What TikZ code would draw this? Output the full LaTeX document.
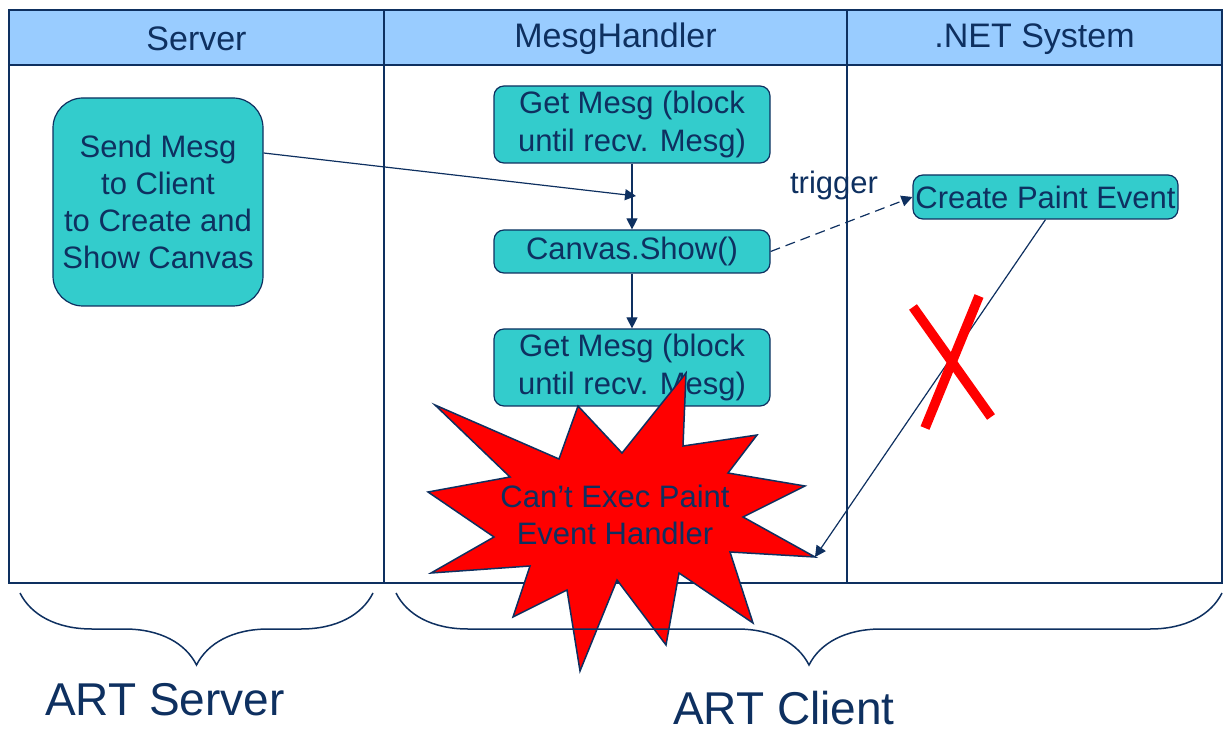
\documentclass[tikz,border=0pt]{standalone}
\usepackage{fontspec}
\setmainfont{Liberation Sans}
\usepackage{tikz}
\usetikzlibrary{arrows.meta,positioning,decorations.pathreplacing}
\definecolor{artnavy}{RGB}{14,48,96}
\definecolor{arthead}{RGB}{153,204,255}
\definecolor{artteal}{RGB}{51,204,204}
\tikzset{
  lanehead/.style={text=artnavy, font=\fontsize{17}{20}\selectfont, inner sep=0pt},
  laneline/.style={draw=artnavy, line width=0.75pt},
  stepbox/.style={draw=artnavy, fill=artteal, rounded corners=5pt, text=artnavy, align=center, font=\fontsize{15.5}{18.6}\selectfont, inner sep=1pt, minimum width=138pt, line width=0.6pt},
  sendbox/.style={stepbox, rounded corners=15pt, minimum width=105pt, minimum height=104pt},
  steplabel/.style={text=artnavy, align=center, font=\fontsize{15.5}{18.6}\selectfont, inner sep=0pt},
  msgarrow/.style={-{Triangle[length=5.5pt,width=5.5pt]}, draw=artnavy, line width=0.6pt},
  triggerarrow/.style={msgarrow, dash pattern=on 5pt off 3pt},
  burst/.style={fill=red, draw=artnavy, line width=0.75pt, line join=miter},
  crossmark/.style={draw=red, line width=4.8pt},
  partbrace/.style={draw=artnavy, line width=0.75pt, decorate, decoration={brace, amplitude=36pt}},
  partlabel/.style={text=artnavy, font=\fontsize{23}{27}\selectfont, inner sep=0pt}
}
\begin{document}
\begin{tikzpicture}[x=0.5pt, y=-0.5pt]
  \useasboundingbox (0,0) rectangle (1224,731);
  \fill[arthead] (9,10) rectangle (1222,65);
  \draw[laneline] (9,10) rectangle (1222,583);
  \draw[laneline] (9,65) -- (1222,65);
  \draw[laneline] (384,10) -- (384,583);
  \draw[laneline] (847,10) -- (847,583);
  \node[lanehead] (server) at (196.5,39) {Server};
  \node[lanehead] (handler) at (615.5,39) {MesgHandler};
  \node[lanehead] (netsys) at (1034.5,39) {.NET System};

  \node[sendbox] (send) at (158,202) {Send Mesg\\to Client\\to Create and\\Show Canvas};
  \node[stepbox, minimum height=38.5pt] (getfirst) at (632,124.5) {Get Mesg (block\\until recv. Mesg)};
  \node[stepbox, minimum height=21.5pt] (canvas) at (632,251.5) {Canvas.Show()};
  \node[stepbox, minimum height=38.5pt] (getsecond) at (632,367.5) {Get Mesg (block\\until recv. Mesg)};
  \node[stepbox, minimum width=132.5pt, minimum height=22pt] (create) at (1045.5,197) {Create Paint Event};
  \node[steplabel] (trigger) at (834,185) {trigger};
  \coordinate (getjoin) at (636,196);

  \draw[msgarrow] ([yshift=24.5pt]send.east) -- (getjoin);
  \draw[msgarrow] (getfirst) -- (canvas);
  \draw[msgarrow] (canvas) -- (getsecond);
  \draw[triggerarrow] (canvas.east) -- (create.west);

  \draw[burst] (686,373) -- (683,446) -- (757,435) -- (728,473) -- (805,486) -- (743,517)
    -- (815,557) -- (730,552) -- (753,623) -- (679,573) -- (666,645) -- (617,580)
    -- (580,671) -- (567,590) -- (513,617) -- (530,566) -- (431,573) -- (494,537)
    -- (428,492) -- (510,477) -- (435,405) -- (559,459) -- (578,406) -- (622,453) -- cycle;
  \node[steplabel] (burstmsg) at (615,515) {Can't Exec Paint\\Event Handler};
  \coordinate (bursttip) at (815,557);

  \draw[partbrace] (373,593) -- (20,593);
  \draw[partbrace] (1222,593) -- (396,593);
  \node[partlabel] (artserver) at (165,700) {ART Server};
  \node[partlabel] (artclient) at (784,708) {ART Client};

  \draw[msgarrow] (create.south) -- (bursttip);
  \draw[crossmark] (913,307) -- (991,417);
  \draw[crossmark] (979,296) -- (925,428);
\end{tikzpicture}
\end{document}
